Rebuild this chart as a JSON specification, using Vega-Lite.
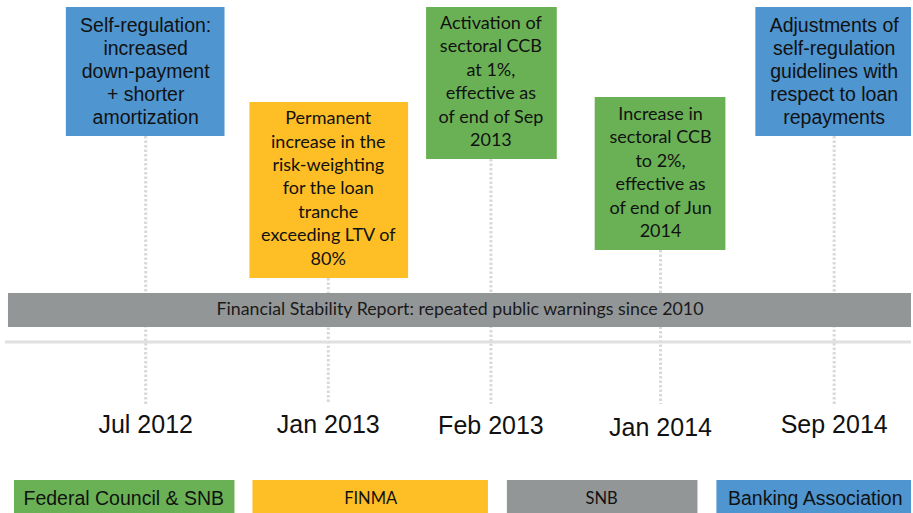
{
  "$schema": "https://vega.github.io/schema/vega-lite/v6.json",
  "width": 913,
  "height": 513,
  "padding": 0,
  "autosize": {"type": "fit", "contains": "padding"},
  "background": "white",
  "config": {"view": {"stroke": null}},
  "datasets": {
    "events": [
      {"org": "Banking Association", "date": "Jul 2012", "text": "Self-regulation:\nincreased\ndown-payment\n+ shorter\namortization", "xc": 146, "x0": 66, "x1": 225, "top": 7, "bottom": 136, "textY": 26, "dateY": 433},
      {"org": "FINMA", "date": "Jan 2013", "text": "Permanent\nincrease in the\nrisk-weighting\nfor the loan\ntranche\nexceeding LTV of\n80%", "xc": 329, "x0": 250, "x1": 409, "top": 102, "bottom": 278, "textY": 119.3, "dateY": 433},
      {"org": "Federal Council & SNB", "date": "Feb 2013", "text": "Activation of\nsectoral CCB\nat 1%,\neffective as\nof end of Sep\n2013", "xc": 492, "x0": 427, "x1": 558, "top": 7, "bottom": 159, "textY": 24, "dateY": 434},
      {"org": "Federal Council & SNB", "date": "Jan 2014", "text": "Increase in\nsectoral CCB\nto 2%,\neffective as\nof end of Jun\n2014", "xc": 662, "x0": 596, "x1": 727, "top": 97, "bottom": 250, "textY": 115, "dateY": 436},
      {"org": "Banking Association", "date": "Sep 2014", "text": "Adjustments of\nself-regulation\nguidelines with\nrespect to loan\nrepayments", "xc": 836, "x0": 757, "x1": 913, "top": 7, "bottom": 136, "textY": 25.7, "dateY": 433}
    ],
    "legend": [
      {"org": "Federal Council & SNB", "label": "Federal Council & SNB", "x0": 14, "x1": 235, "xc": 124},
      {"org": "FINMA", "label": "FINMA", "x0": 253, "x1": 489, "xc": 371.5},
      {"org": "SNB", "label": "SNB", "x0": 508, "x1": 699, "xc": 603},
      {"org": "Banking Association", "label": "Banking Association", "x0": 718, "x1": 913, "xc": 817}
    ],
    "bar": [
      {"org": "SNB", "label": "Financial Stability Report: repeated public warnings since 2010", "x0": 8, "x1": 913, "top": 293, "bottom": 327, "xc": 461, "yc": 310}
    ],
    "axisline": [
      {"x0": 5, "x1": 913, "y": 342}
    ]
  },
  "layer": [
    {
      "data": {"name": "events"},
      "mark": {"type": "rule", "color": "#d9d9d9", "strokeWidth": 3, "strokeDash": [2.5, 2]},
      "encoding": {
        "x": {"field": "xc", "type": "quantitative", "scale": {"domain": [0, 913], "nice": false, "zero": false}, "axis": null},
        "y": {"field": "bottom", "type": "quantitative", "scale": {"domain": [0, 513], "nice": false, "zero": false, "reverse": true}, "axis": null},
        "y2": {"datum": 404}
      }
    },
    {
      "data": {"name": "axisline"},
      "mark": {"type": "rule", "color": "#e0e0e0", "strokeWidth": 3},
      "encoding": {
        "x": {"field": "x0", "type": "quantitative"},
        "x2": {"field": "x1"},
        "y": {"field": "y", "type": "quantitative"}
      }
    },
    {
      "data": {"name": "bar"},
      "mark": {"type": "rect"},
      "encoding": {
        "x": {"field": "x0", "type": "quantitative"},
        "x2": {"field": "x1"},
        "y": {"field": "top", "type": "quantitative"},
        "y2": {"field": "bottom"},
        "color": {"field": "org", "type": "nominal", "legend": null,
          "scale": {"domain": ["Federal Council & SNB", "FINMA", "SNB", "Banking Association"], "range": ["#6AB155", "#FDBE26", "#939697", "#4F95D0"]}}
      }
    },
    {
      "data": {"name": "bar"},
      "mark": {"type": "text", "font": "Lato", "fontSize": 17.8, "color": "#1a1a1a", "align": "center", "baseline": "middle"},
      "encoding": {
        "x": {"field": "xc", "type": "quantitative"},
        "y": {"field": "yc", "type": "quantitative"},
        "text": {"field": "label"}
      }
    },
    {
      "data": {"name": "events"},
      "mark": {"type": "rect"},
      "encoding": {
        "x": {"field": "x0", "type": "quantitative"},
        "x2": {"field": "x1"},
        "y": {"field": "top", "type": "quantitative"},
        "y2": {"field": "bottom"},
        "color": {"field": "org", "type": "nominal", "legend": null}
      }
    },
    {
      "data": {"name": "events"},
      "transform": [{"filter": "datum.org === 'Banking Association'"}],
      "mark": {"type": "text", "font": "Liberation Sans", "fontSize": 19.5, "lineHeight": 23, "lineBreak": "\n", "color": "#111111", "align": "center", "baseline": "middle"},
      "encoding": {
        "x": {"field": "xc", "type": "quantitative"},
        "y": {"field": "textY", "type": "quantitative"},
        "text": {"field": "text"}
      }
    },
    {
      "data": {"name": "events"},
      "transform": [{"filter": "datum.org !== 'Banking Association'"}],
      "mark": {"type": "text", "font": "Lato", "fontSize": 18, "lineHeight": 23.4, "lineBreak": "\n", "color": "#111111", "align": "center", "baseline": "middle"},
      "encoding": {
        "x": {"field": "xc", "type": "quantitative"},
        "y": {"field": "textY", "type": "quantitative"},
        "text": {"field": "text"}
      }
    },
    {
      "data": {"name": "events"},
      "mark": {"type": "text", "font": "Liberation Sans", "fontSize": 25, "color": "#111111", "align": "center", "baseline": "alphabetic"},
      "encoding": {
        "x": {"field": "xc", "type": "quantitative"},
        "y": {"field": "dateY", "type": "quantitative"},
        "text": {"field": "date"}
      }
    },
    {
      "data": {"name": "legend"},
      "mark": {"type": "rect"},
      "encoding": {
        "x": {"field": "x0", "type": "quantitative"},
        "x2": {"field": "x1"},
        "y": {"datum": 480},
        "y2": {"datum": 513},
        "color": {"field": "org", "type": "nominal", "legend": null}
      }
    },
    {
      "data": {"name": "legend"},
      "transform": [{"filter": "datum.org === 'Federal Council & SNB' || datum.org === 'Banking Association'"}],
      "mark": {"type": "text", "font": "Liberation Sans", "fontSize": 19.5, "color": "#111111", "align": "center", "baseline": "alphabetic"},
      "encoding": {
        "x": {"field": "xc", "type": "quantitative"},
        "y": {"datum": 505},
        "text": {"field": "label"}
      }
    },
    {
      "data": {"name": "legend"},
      "transform": [{"filter": "datum.org === 'FINMA' || datum.org === 'SNB'"}],
      "mark": {"type": "text", "font": "Lato", "fontSize": 16.5, "color": "#111111", "align": "center", "baseline": "alphabetic"},
      "encoding": {
        "x": {"field": "xc", "type": "quantitative"},
        "y": {"datum": 504},
        "text": {"field": "label"}
      }
    }
  ]
}
